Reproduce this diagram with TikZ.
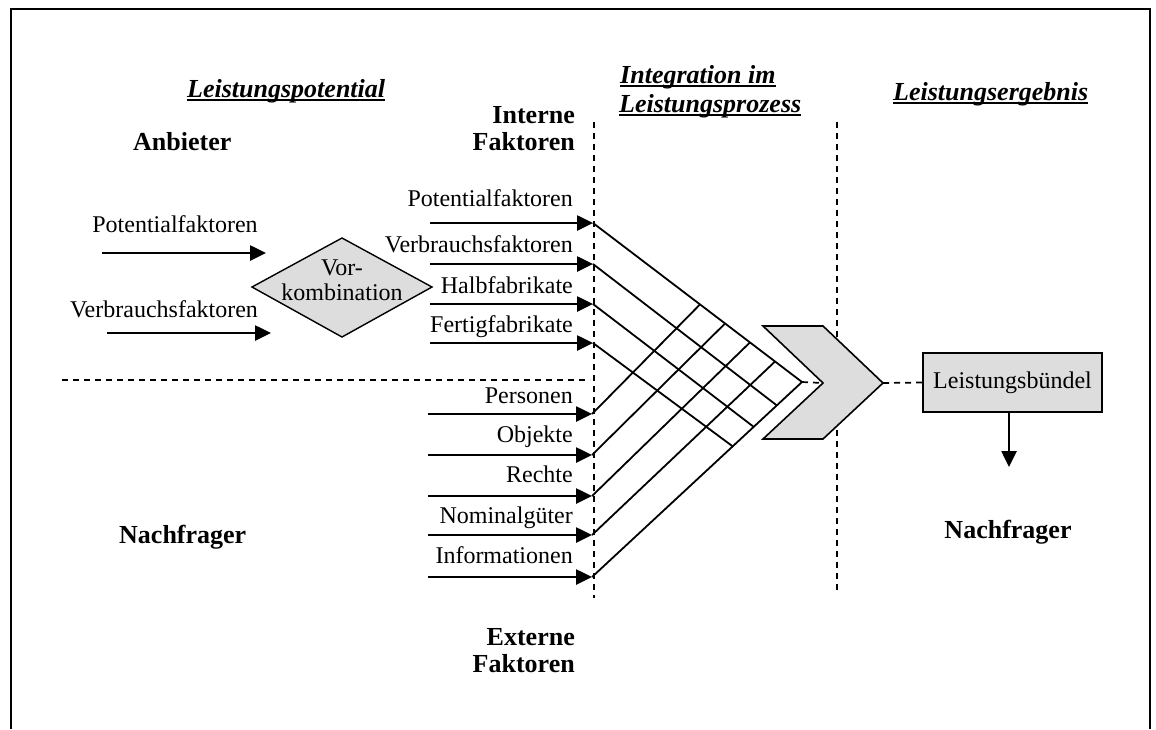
\documentclass[tikz,border=0pt]{standalone}
\usepackage{fontspec}
\setmainfont{Liberation Serif}
\usetikzlibrary{arrows.meta,calc}
\definecolor{boxgray}{HTML}{DDDDDD}
\begin{document}
\begin{tikzpicture}[x=1pt,y=-1pt,
  lbl/.style={inner sep=0pt, font=\fontsize{24}{28}\selectfont},
  bold/.style={inner sep=0pt, font=\fontsize{26}{30}\selectfont\bfseries},
  head/.style={inner sep=0pt, font=\fontsize{26}{30}\selectfont\bfseries\itshape},
  uline/.style={line width=2.6pt},
  arr/.style={line width=2.6pt, -{Triangle[length=16pt,width=15pt]}},
  link/.style={line width=1.8pt},
  sep/.style={line width=1.7pt, dash pattern=on 6pt off 5pt},
  shade/.style={fill=boxgray, draw=black, line width=1.6pt}]
\useasboundingbox (0,0) rectangle (1156,729);
% frame
\draw[line width=2pt] (11,729) -- (11,9) -- (1150,9) -- (1150,729);

% column headings
\node[head, anchor=base west] (hpot) at (187,97) {Leistungspotential};
\draw[uline] ([yshift=-3pt]hpot.base west) -- ([yshift=-3pt]hpot.base east);
\node[head, anchor=base west] (hint1) at (620,83) {Integration im};
\draw[uline] ([yshift=-3pt]hint1.base west) -- ([yshift=-3pt]hint1.base east);
\node[head, anchor=base west] (hint2) at (619,112) {Leistungsprozess};
\draw[uline] ([yshift=-3pt]hint2.base west) -- ([yshift=-3pt]hint2.base east);
\node[head, anchor=base west] (herg) at (893,100) {Leistungsergebnis};
\draw[uline] ([yshift=-3pt]herg.base west) -- ([yshift=-3pt]herg.base east);

% side labels
\node[bold, anchor=base west] (anb) at (133,150) {Anbieter};
\node[bold, anchor=base west] (nfl) at (119,543) {Nachfrager};
\node[bold, anchor=base] (nfr) at (1008,538) {Nachfrager};
\node[bold, anchor=base east] (int1) at (575,123) {Interne};
\node[bold, anchor=base east] (int2) at (575,150) {Faktoren};
\node[bold, anchor=base east] (ext1) at (575,645) {Externe};
\node[bold, anchor=base east] (ext2) at (575,672) {Faktoren};

% separators
\draw[sep] (594,122) -- (594,598);
\draw[sep] (837,122) -- (837,592);
\draw[sep] (62,380) -- (590,380);

% pre-combination
\node[lbl, anchor=base] (lpf) at (175,232) {Potentialfaktoren};
\node[lbl, anchor=base] (lvf) at (164,317) {Verbrauchsfaktoren};
\coordinate (pfs) at (102,253); \coordinate (pfe) at (266,253);
\coordinate (vfs) at (107,333); \coordinate (vfe) at (271,333);
\draw[arr] (pfs) -- (pfe);
\draw[arr] (vfs) -- (vfe);
\draw[shade, line width=1.4pt] (252,287) coordinate (dl) -- (342,238) coordinate (dt)
  -- (432,287) coordinate (dr) -- (342,337) coordinate (db) -- cycle;
\node[lbl, anchor=base] (vk1) at (342,275) {Vor-};
\node[lbl, anchor=base] (vk2) at (342,300) {kombination};

% internal factors
\foreach \n/\txt/\ty/\ay in {1/Potentialfaktoren/206/223, 2/Verbrauchsfaktoren/252/264,
    3/Halbfabrikate/293/304, 4/Fertigfabrikate/332/343} {
  \node[lbl, anchor=base east] (il\n) at (573,\ty) {\txt};
  \coordinate (is\n) at (430,\ay);
  \coordinate (t\n) at (593,\ay);
  \draw[arr] (is\n) -- (t\n);
}
% external factors
\foreach \n/\txt/\ty/\ay in {1/Personen/403/414, 2/Objekte/442/455, 3/Rechte/482/496,
    4/Nominalgüter/523/535, 5/Informationen/563/577} {
  \node[lbl, anchor=base east] (el\n) at (573,\ty) {\txt};
  \coordinate (es\n) at (428,\ay);
  \coordinate (b\n) at (592,\ay);
  \draw[arr] (es\n) -- (b\n);
}

% integration lattice
\coordinate (C) at (802,382);
\draw[link] (t1) -- (C);
\draw[link] (t2) -- ($(b5)!0.88!(C)$);
\draw[link] (t3) -- ($(b5)!0.77!(C)$);
\draw[link] (t4) -- ($(b5)!0.67!(C)$);
\draw[link] (b1) -- ($(t1)!0.512!(C)$);
\draw[link] (b2) -- ($(t1)!0.632!(C)$);
\draw[link] (b3) -- ($(t1)!0.751!(C)$);
\draw[link] (b4) -- ($(t1)!0.871!(C)$);
\draw[link] (b5) -- (C);

% process chevron
\draw[fill=boxgray, draw=black, line width=1.6pt, line join=miter]
  (763,326) -- (823,326) -- (883,383) coordinate (ctip) -- (823,439)
  -- (763,439) -- (823,383) coordinate (cnotch) -- cycle;
\draw[sep] (C) -- (cnotch);

% result
\node[shade, line width=2.2pt, minimum width=179pt, minimum height=59pt, inner sep=0pt,
  font=\fontsize{24}{28}\selectfont] (lb) at (1012.5,382.5) {Leistungsbündel};
\draw[sep] (ctip) -- (lb.west);
\coordinate (down) at (1009,467);
\draw[arr] (lb.south -| down) -- (down);
\end{tikzpicture}
\end{document}
